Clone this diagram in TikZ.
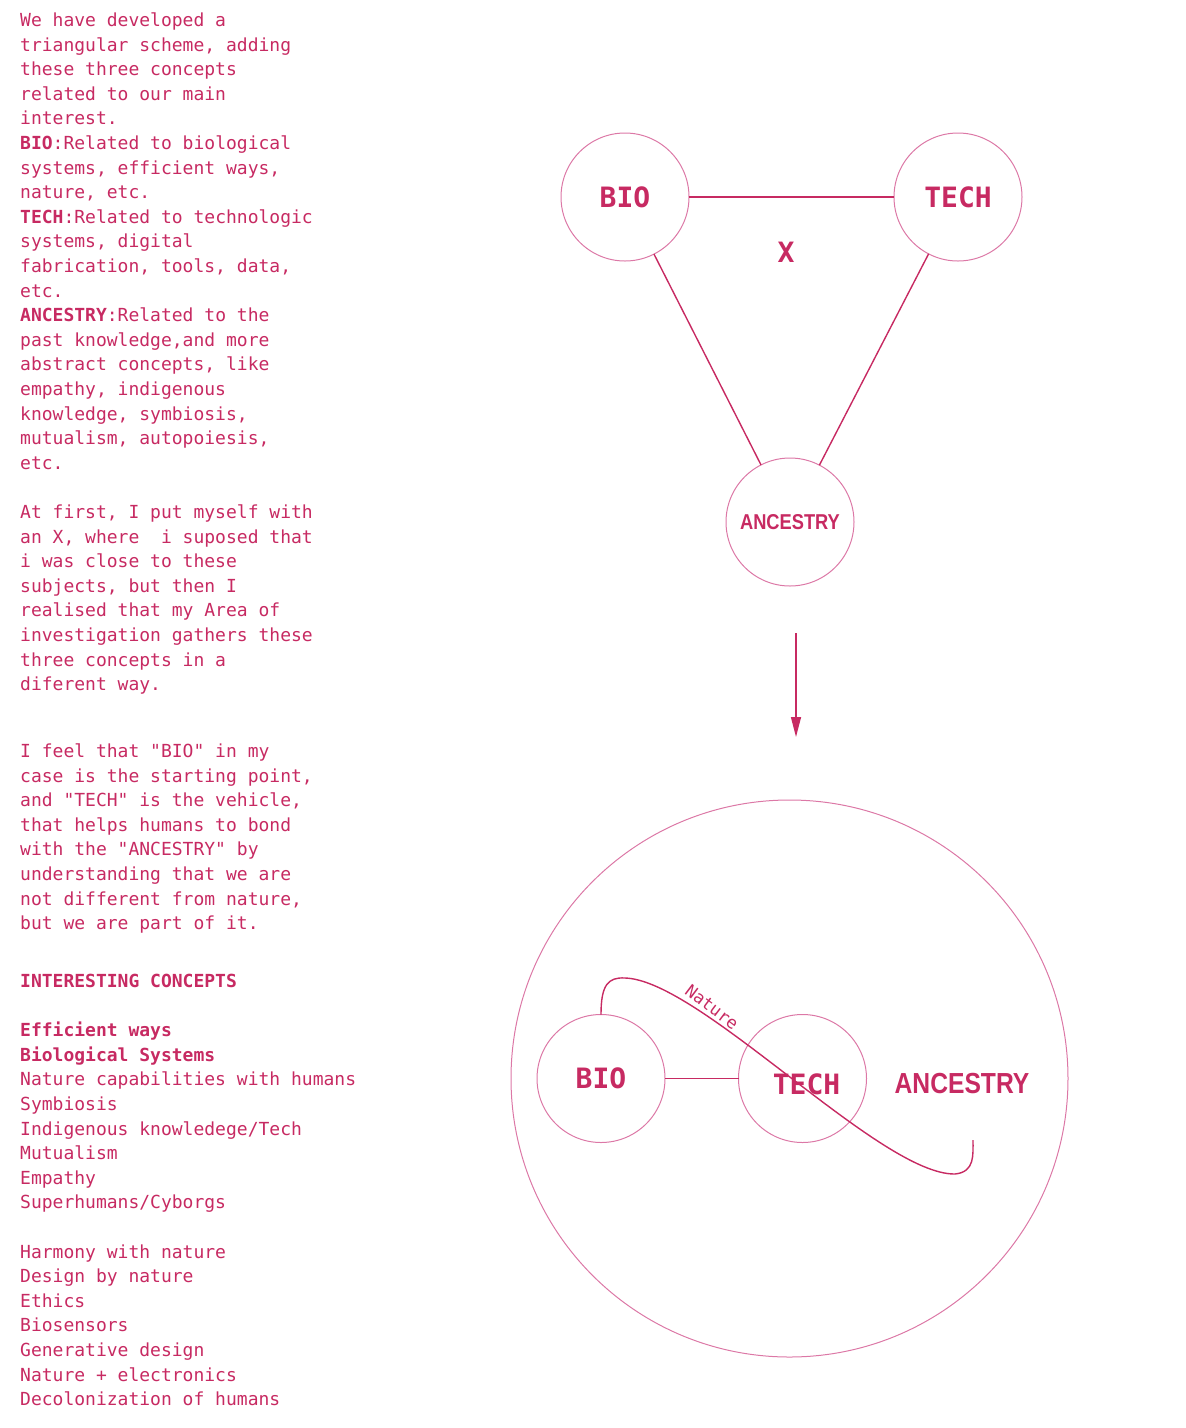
\documentclass[tikz,border=0pt]{standalone}
\usepackage{fontspec}
\setmonofont{DejaVu Sans Mono}
\newfontfamily\narrowsans[FakeStretch=0.85]{Liberation Sans}
\usetikzlibrary{arrows.meta,positioning}

\definecolor{rose}{HTML}{C72A62}
\definecolor{roselight}{HTML}{DC78A6}

\begin{document}
\begin{tikzpicture}[
  x=1pt, y=1pt,
  % ---- Text styles ----
  body/.style={anchor=north west, inner sep=0pt, align=left, text=rose,
               font=\ttfamily\fontsize{18}{24.6}\selectfont},
  tag/.style={inner sep=0pt, text=rose, font=\ttfamily\fontsize{17}{18}\selectfont},
  bold/.style={inner sep=0pt, text=rose, font=\ttfamily\bfseries\fontsize{28}{30}\selectfont},
  % ---- Circles ----
  concept/.style={circle, draw=roselight, line width=1pt, minimum size=128pt,
                  inner sep=0pt, outer sep=0pt, text=rose,
                  font=\ttfamily\bfseries\fontsize{28}{30}\selectfont},
  bigring/.style={concept, minimum size=557pt},
  % ---- Lines ----
  link/.style={draw=rose, line width=1.4pt},
  flow/.style={link, -{Triangle[length=20pt,width=10pt]}}
]
\useasboundingbox (0,0) rectangle (1186,-1428);

% ===== Left column: notes =====
\node[body] (intro) at (20,-12.5) {We have developed a\\
triangular scheme, adding\\
these three concepts\\
related to our main\\
interest.\\
\textbf{BIO}:Related to biological\\
systems, efficient ways,\\
nature, etc.\\
\textbf{TECH}:Related to technologic\\
systems, digital\\
fabrication, tools, data,\\
etc.\\
\textbf{ANCESTRY}:Related to the\\
past knowledge,and more\\
abstract concepts, like\\
empathy, indigenous\\
knowledge, symbiosis,\\
mutualism, autopoiesis,\\
etc.};

\node[body] (first) at (20,-504.5) {At first, I put myself with\\
an X, where\ \ i suposed that\\
i was close to these\\
subjects, but then I\\
realised that my Area of\\
investigation gathers these\\
three concepts in a\\
diferent way.};

\node[body] (feel) at (20,-743.5) {I feel that "BIO" in my\\
case is the starting point,\\
and "TECH" is the vehicle,\\
that helps humans to bond\\
with the "ANCESTRY" by\\
understanding that we are\\
not different from nature,\\
but we are part of it.};

\node[body] (ideas) at (20,-974) {\textbf{INTERESTING CONCEPTS}\\[24.6pt]
\textbf{Efficient ways}\\
\textbf{Biological Systems}\\
Nature capabilities with humans\\
Symbiosis\\
Indigenous knowledege/Tech\\
Mutualism\\
Empathy\\
Superhumans/Cyborgs\\[24.6pt]
Harmony with nature\\
Design by nature\\
Ethics\\
Biosensors\\
Generative design\\
Nature + electronics\\
Decolonization of humans};

% ===== Top: triangular scheme =====
\node[concept] (bio)  at (625,-197) {BIO};
\node[concept] (tech) at (958,-197) {TECH};
\node[concept, font=\narrowsans\bfseries\fontsize{21.5}{22}\selectfont] (anc) at (790,-522) {ANCESTRY};
\node[bold] (me) at (786,-252) {X};

\draw[link] (bio) -- (tech);
\draw[link] (bio) -- (anc);
\draw[link] (tech) -- (anc);

% ===== Arrow between the two schemes =====
\coordinate (arrowA) at (796,-633);
\coordinate (arrowB) at (796,-737);
\draw[flow] (arrowA) -- (arrowB);

% ===== Bottom: gathered scheme =====
\node[bigring] (whole) at (789.5,-1078.5) {};
\node[concept] (bioB)  at (601,-1078.5) {BIO};
\node[concept] (techB) at (802.5,-1078.5) {};
\node[bold] (techTxt) at (806.5,-1084) {TECH};
\node[inner sep=0pt, text=rose, font=\narrowsans\bfseries\fontsize{29}{30}\selectfont] (ancB) at (962,-1084) {ANCESTRY};

\draw[link] (bioB) -- (techB);

% nature thread: from top of BIO, across TECH, curling up near ANCESTRY
\coordinate (natureEnd) at (973,-1140);
\draw[link] (bioB.north) .. controls (601,-985) and (608,-977) .. (625,-978)
            .. controls (700,-980) and (880,-1175) .. (955,-1174)
            .. controls (975,-1172) and (973,-1155) .. (natureEnd);
\node[tag, rotate=-37] (natureLbl) at (712,-1007) {Nature};

\end{tikzpicture}
\end{document}
